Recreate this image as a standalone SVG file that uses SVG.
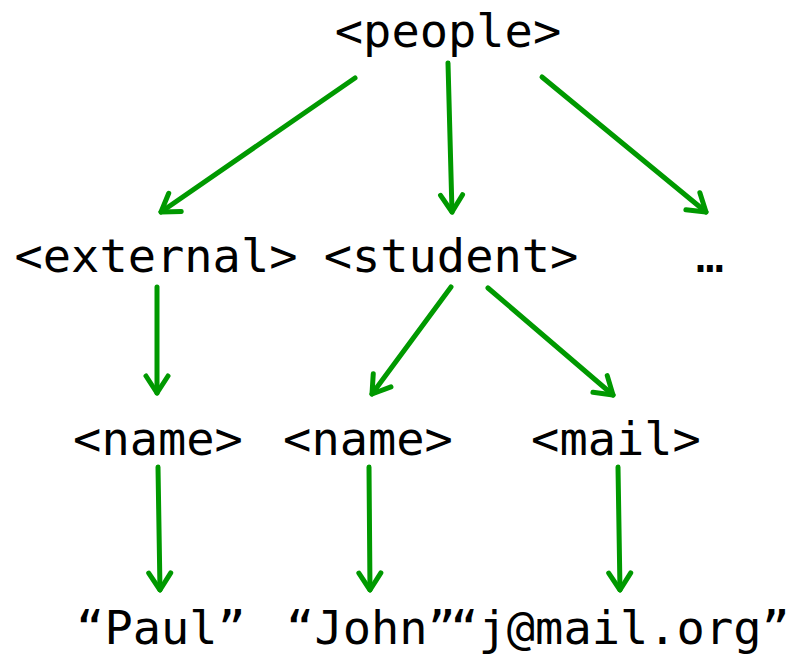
<svg xmlns="http://www.w3.org/2000/svg" width="796" height="658" viewBox="0 0 796 658">
  <style>
    .lbl { font-family: "DejaVu Sans Mono", "Liberation Mono", monospace; font-size: 47px; fill: #000; text-anchor: middle; }
    .edge { stroke: #009900; stroke-width: 5; fill: none; stroke-linecap: round; marker-end: url(#head); }
  </style>
  <defs>
    <marker id="head" markerUnits="userSpaceOnUse" markerWidth="40" markerHeight="40" viewBox="-25 -20 40 40" refX="0" refY="0" orient="auto">
      <path d="M -17,-11 L 0,0 L -17,11" fill="none" stroke="#009900" stroke-width="5" stroke-linecap="round" stroke-linejoin="round"/>
    </marker>
  </defs>

  <g id="connectors">
    <line class="edge" x1="355" y1="78" x2="161" y2="212"/>
    <line class="edge" x1="448" y1="63" x2="452" y2="212"/>
    <line class="edge" x1="542" y1="77" x2="706" y2="212"/>
    <line class="edge" x1="157" y1="287" x2="157" y2="393"/>
    <line class="edge" x1="451" y1="287" x2="372" y2="394"/>
    <line class="edge" x1="488" y1="288" x2="613" y2="395"/>
    <line class="edge" x1="158" y1="467" x2="160" y2="590"/>
    <line class="edge" x1="369" y1="467" x2="370" y2="590"/>
    <line class="edge" x1="618" y1="467" x2="620" y2="590"/>
  </g>

  <g id="people"><text class="lbl" x="448" y="47">&lt;people&gt;</text></g>
  <g id="external"><text class="lbl" x="156" y="272">&lt;external&gt;</text></g>
  <g id="student"><text class="lbl" x="451" y="272">&lt;student&gt;</text></g>
  <g id="more"><text class="lbl" x="710" y="272">…</text></g>
  <g id="name-external"><text class="lbl" x="158" y="455">&lt;name&gt;</text></g>
  <g id="name-student"><text class="lbl" x="368" y="455">&lt;name&gt;</text></g>
  <g id="mail"><text class="lbl" x="616" y="455">&lt;mail&gt;</text></g>
  <g id="paul"><text class="lbl" x="161" y="644">“Paul”</text></g>
  <g id="john"><text class="lbl" x="371" y="644">“John”</text></g>
  <g id="address"><text class="lbl" x="620" y="644">“j@mail.org”</text></g>
</svg>
